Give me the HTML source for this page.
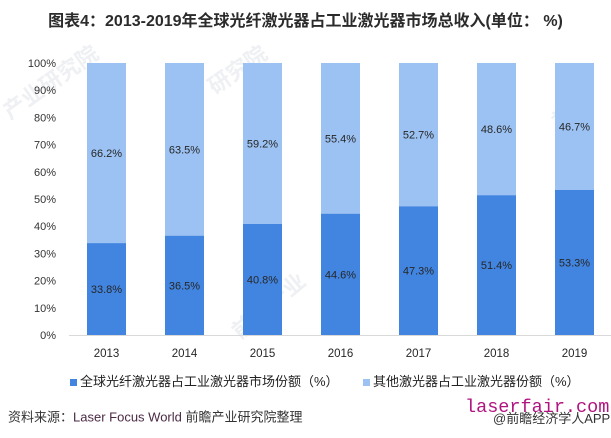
<!DOCTYPE html>
<html><head><meta charset="utf-8"><style>
html,body{margin:0;padding:0;background:#fff;}
svg{display:block;}
</style></head><body>
<svg width="611" height="438" viewBox="0 0 611 438" xmlns="http://www.w3.org/2000/svg" font-family="'Liberation Sans','Noto Sans CJK SC',sans-serif">
<rect width="611" height="438" fill="#fff"/>
<!-- watermarks -->
<g fill="#eef0f3" font-weight="bold" font-family="'Noto Sans CJK SC',sans-serif">
<text x="0" y="0" font-size="22" transform="translate(10,120) rotate(-35)">产业研究院</text>
<text x="0" y="0" font-size="22" transform="translate(215,95) rotate(-35)">研究院</text>
<text x="0" y="0" font-size="22" transform="translate(240,340) rotate(-40)">前瞻产业</text>
<text x="0" y="0" font-size="22" transform="translate(560,130) rotate(-40)">前瞻</text>
</g>
<!-- y axis labels -->
<g font-size="11" fill="#333" text-anchor="end">
<text x="56" y="67">100%</text>
<text x="56" y="94.2">90%</text>
<text x="56" y="121.4">80%</text>
<text x="56" y="148.6">70%</text>
<text x="56" y="175.8">60%</text>
<text x="56" y="203">50%</text>
<text x="56" y="230.2">40%</text>
<text x="56" y="257.4">30%</text>
<text x="56" y="284.6">20%</text>
<text x="56" y="311.8">10%</text>
<text x="56" y="339">0%</text>
</g>
<!-- bars -->
<g>
<rect x="87" y="63" width="39" height="180.1" fill="#9bc2f3"/>
<rect x="87" y="243.1" width="39" height="91.9" fill="#4285e0"/>
<rect x="165" y="63" width="39" height="172.7" fill="#9bc2f3"/>
<rect x="165" y="235.7" width="39" height="99.3" fill="#4285e0"/>
<rect x="243" y="63" width="39" height="161" fill="#9bc2f3"/>
<rect x="243" y="224" width="39" height="111" fill="#4285e0"/>
<rect x="321" y="63" width="39" height="150.7" fill="#9bc2f3"/>
<rect x="321" y="213.7" width="39" height="121.3" fill="#4285e0"/>
<rect x="399" y="63" width="39" height="143.3" fill="#9bc2f3"/>
<rect x="399" y="206.3" width="39" height="128.7" fill="#4285e0"/>
<rect x="477" y="63" width="39" height="132.2" fill="#9bc2f3"/>
<rect x="477" y="195.2" width="39" height="139.8" fill="#4285e0"/>
<rect x="555" y="63" width="39" height="127" fill="#9bc2f3"/>
<rect x="555" y="190" width="39" height="145" fill="#4285e0"/>
</g>
<line x1="69" y1="335.5" x2="611" y2="335.5" stroke="#d9d9d9" stroke-width="1"/>
<!-- value labels -->
<g font-size="11" fill="#262626" text-anchor="middle">
<text x="106.5" y="157">66.2%</text>
<text x="106.5" y="293">33.8%</text>
<text x="184.5" y="153.4">63.5%</text>
<text x="184.5" y="289.3">36.5%</text>
<text x="262.5" y="147.5">59.2%</text>
<text x="262.5" y="283.5">40.8%</text>
<text x="340.5" y="142.3">55.4%</text>
<text x="340.5" y="278.3">44.6%</text>
<text x="418.5" y="138.6">52.7%</text>
<text x="418.5" y="274.6">47.3%</text>
<text x="496.5" y="133.1">48.6%</text>
<text x="496.5" y="269.1">51.4%</text>
<text x="574.5" y="130.5">46.7%</text>
<text x="574.5" y="266.5">53.3%</text>
</g>
<!-- x labels -->
<g font-size="11.5" fill="#262626" text-anchor="middle">
<text x="106.5" y="357">2013</text>
<text x="184.5" y="357">2014</text>
<text x="262.5" y="357">2015</text>
<text x="340.5" y="357">2016</text>
<text x="418.5" y="357">2017</text>
<text x="496.5" y="357">2018</text>
<text x="574.5" y="357">2019</text>
</g>
<!-- title -->
<text x="305.5" y="26" font-size="16" font-weight="bold" fill="#2b2b2b" text-anchor="middle">图表4：2013-2019年全球光纤激光器占工业激光器市场总收入(单位：  %)</text>
<!-- legend -->
<rect x="70" y="379" width="7" height="7" fill="#4285e0"/>
<text x="80" y="386" font-size="13" fill="#222">全球光纤激光器占工业激光器市场份额（%）</text>
<rect x="363" y="379" width="7" height="7" fill="#9bc2f3"/>
<text x="373" y="386" font-size="13" fill="#222">其他激光器占工业激光器份额（%）</text>
<!-- source -->
<text x="8" y="421.5" font-size="13" fill="#333">资料来源：<tspan fill="#4a2a45">Laser Focus World</tspan> 前瞻产业研究院整理</text>
<text x="465" y="412" font-size="18.5" fill="#b0147f" font-family="'Liberation Mono',monospace">laserfair.com</text>
<text x="493" y="423" font-size="13" fill="#333">@前瞻经济学人APP</text>
</svg>
</body></html>
